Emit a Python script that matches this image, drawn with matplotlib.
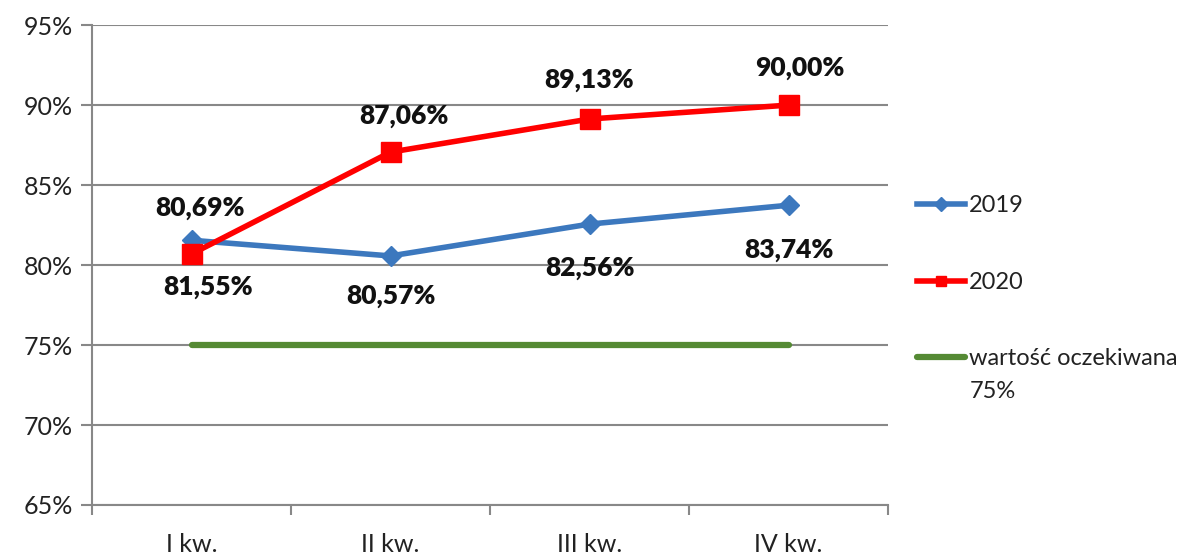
import numpy as np
import matplotlib.pyplot as plt

plt.rcParams['font.family'] = ['Lato', 'DejaVu Sans']

# dane
kwartaly = ['I kw.', 'II kw.', 'III kw.', 'IV kw.']
v2019 = [81.55, 80.57, 82.56, 83.74]
v2020 = [80.69, 87.06, 89.13, 90.00]
oczekiwana = [75, 75, 75, 75]
y_ticks = [65, 70, 75, 80, 85, 90, 95]

# przesuniecia etykiet w pikselach (x, y)
off2019 = [(17, -47), (0, -40), (0, -44), (0, -45)]
off2020 = [(8, 46), (13, 36), (0, 39), (11, 37)]

fig = plt.figure(figsize=(12, 5.58), dpi=100)
ax = fig.add_axes([0.0767, 0.095, 0.6633, 0.86])

x = np.arange(len(kwartaly))
blue = '#3C78BE'
red = '#FF0000'
green = '#558A34'

ax.plot(x, oczekiwana, color=green, lw=4.5, solid_capstyle='round',
        label='wartość oczekiwana', zorder=3)
ax.plot(x, v2019, color=blue, lw=4, marker='D', ms=10,
        label='2019', zorder=4)
ax.plot(x, v2020, color=red, lw=4, marker='s', ms=14,
        label='2020', zorder=5)

def fmt(v):
    return f'{v:.2f}'.replace('.', ',') + '%'

for i in range(len(x)):
    ax.annotate(fmt(v2019[i]), (x[i], v2019[i]), xytext=off2019[i],
                textcoords='offset pixels', ha='center', va='center',
                fontsize=19, fontweight='heavy', color='#111111')
    ax.annotate(fmt(v2020[i]), (x[i], v2020[i]), xytext=off2020[i],
                textcoords='offset pixels', ha='center', va='center',
                fontsize=19, fontweight='heavy', color='#111111')

ax.set_xlim(-0.5, 3.5)
ax.set_ylim(65, 95)
ax.set_yticks(y_ticks)
ax.set_yticklabels([f'{t}%' for t in y_ticks], fontsize=18, color='#222222')
ax.set_xticks(x)
ax.set_xticklabels(kwartaly, fontsize=18, color='#222222')
ax.set_xticks(np.arange(-0.5, 4.0, 1.0), minor=True)
ax.tick_params(axis='x', which='major', length=0, pad=20)
ax.tick_params(axis='x', which='minor', length=7, color='#888888', width=1.5)
ax.tick_params(axis='y', length=8, color='#888888', width=1.5, pad=6)

ax.grid(axis='y', color='#888888', lw=1.5)
ax.set_axisbelow(True)
for s in ['top', 'right']:
    ax.spines[s].set_visible(False)
for s in ['left', 'bottom']:
    ax.spines[s].set_color('#888888')
    ax.spines[s].set_linewidth(1.5)

h, l = ax.get_legend_handles_labels()
order = [1, 2, 0]
leg = ax.legend([h[i] for i in order], [l[i] for i in order],
                loc='upper left', bbox_to_anchor=(1.025, 0.665),
                frameon=False, fontsize=17, handlelength=2.0,
                handletextpad=0.2, labelspacing=2.35, borderaxespad=0)
for t in leg.get_texts():
    t.set_color('#222222')
for lh in leg.legend_handles:
    lh.set_markersize(7)

# druga linia etykiety "75%" pod wpisem legendy
fig.canvas.draw()
bb = leg.get_texts()[2].get_window_extent()
fig.text(bb.x0 / fig.bbox.width, (bb.y0 - 33) / fig.bbox.height, '75%',
         fontsize=17, color='#222222', ha='left', va='bottom')

fig.savefig('out.png', dpi=100)
